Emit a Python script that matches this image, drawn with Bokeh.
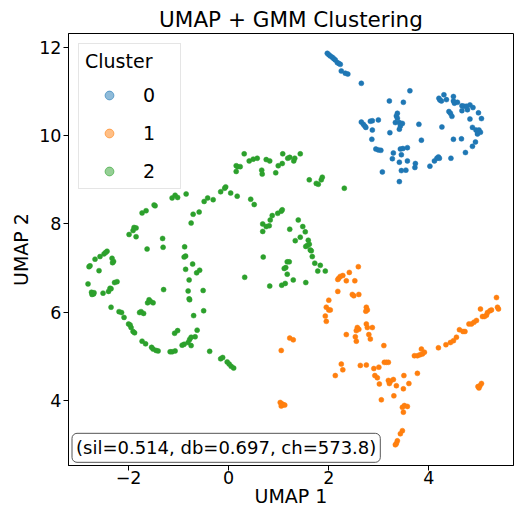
from bokeh.plotting import figure
from bokeh.models import Legend, LegendItem, Label, FixedTicker, Range1d
from bokeh.embed import file_html
from bokeh.resources import INLINE

FONT = "DejaVu Sans"

title_text = "UMAP + GMM Clustering"
x_label = "UMAP 1"
y_label = "UMAP 2"
legend_title = "Cluster"
cluster_names = ["0", "1", "2"]
cluster_colors = ["#1f77b4", "#ff7f0e", "#2ca02c"]
metrics_text = "(sil=0.514, db=0.697, ch=573.8)"
x_ticks = [-2, 0, 2, 4]
y_ticks = [4, 6, 8, 10, 12]

# Cluster 0 (blue)
x0 = [1.97, 2.00, 2.03, 2.07, 2.10, 2.13, 2.17, 2.20, 2.23, 2.25,
      2.33, 2.38, 2.65, 3.62, 3.21, 3.49, 3.37, 3.35, 3.37, 2.65,
      2.69, 2.72, 2.74, 2.83, 2.87, 2.99, 3.33, 3.41, 3.47, 3.43,
      3.41, 3.80, 2.87, 3.22, 2.86, 2.94, 2.99, 3.04, 3.29, 3.43,
      3.48, 3.57, 3.27, 3.45, 3.41, 3.57, 3.73, 3.72, 3.54, 3.45,
      3.07, 3.41, 4.02, 4.11, 4.16, 4.19, 4.21, 4.44, 4.73, 4.87,
      4.93, 4.49, 4.65, 3.85, 4.26, 4.20, 4.22, 4.25, 4.30, 4.35,
      4.49, 4.49, 4.51, 4.57, 4.66, 4.70, 4.75, 4.82, 4.88, 4.77,
      4.66, 4.82, 4.99, 5.05, 4.87, 4.94, 4.97, 5.00, 5.03, 4.97,
      4.40, 4.43, 4.46]
y0 = [11.87, 11.84, 11.81, 11.78, 11.75, 11.72, 11.66, 11.64, 11.62, 11.47,
      11.42, 11.40, 11.19, 11.02, 10.79, 10.76, 10.51, 10.45, 10.40, 10.31,
      10.26, 10.22, 10.19, 10.33, 10.34, 10.36, 10.30, 10.30, 10.28, 10.22,
      10.15, 10.26, 10.13, 10.07, 9.92, 9.70, 9.68, 9.67, 9.61, 9.70,
      9.71, 9.73, 9.48, 9.57, 9.40, 9.43, 9.37, 9.28, 9.22, 9.21,
      9.18, 8.96, 9.31, 9.43, 9.49, 9.52, 9.49, 9.49, 9.62, 9.76,
      9.86, 9.92, 9.93, 9.90, 10.20, 10.85, 10.81, 10.79, 10.93, 10.82,
      10.89, 10.79, 10.74, 10.76, 10.68, 10.67, 10.67, 10.70, 10.64, 10.59,
      10.57, 10.38, 10.52, 10.39, 10.19, 10.13, 10.10, 10.13, 10.08, 10.04,
      10.55, 10.51, 10.44]

# Cluster 1 (orange)
x1 = [2.59, 2.41, 2.28, 2.23, 2.20, 2.18, 2.35, 2.52, 2.18, 2.47,
      2.50, 2.60, 2.00, 1.95, 2.00, 2.03, 1.93, 1.95, 2.75, 2.77,
      2.74, 2.75, 2.87, 2.77, 2.57, 2.60, 2.55, 2.53, 2.35, 2.55,
      2.80, 2.83, 3.10, 1.22, 1.29, 1.05, 2.25, 2.28, 2.13, 2.63,
      2.75, 2.90, 3.00, 3.11, 3.15, 3.19, 2.92, 2.97, 3.19, 3.23,
      3.29, 3.21, 3.01, 3.35, 3.50, 3.60, 3.49, 3.30, 3.05, 3.77,
      3.51, 3.47, 3.57, 3.49, 3.47, 3.43, 3.37, 3.35, 3.33, 1.03,
      1.06, 1.09, 1.12, 1.05, 3.71, 3.77, 3.82, 3.87, 3.91, 3.85,
      4.19, 4.34, 4.43, 4.49, 4.55, 4.61, 4.68, 4.72, 4.80, 4.85,
      4.90, 4.95, 5.03, 5.07, 5.11, 5.15, 5.17, 5.22, 5.25, 5.35,
      5.37, 5.39, 4.98, 5.02, 5.05, 5.00]
y1 = [7.03, 6.90, 6.83, 6.81, 6.77, 6.74, 6.71, 6.71, 6.47, 6.40,
      6.37, 6.40, 6.27, 6.11, 6.05, 6.05, 5.91, 5.79, 6.11, 6.05,
      6.02, 5.73, 5.65, 5.65, 5.65, 5.61, 5.58, 5.44, 5.49, 5.34,
      5.49, 5.39, 5.24, 5.41, 5.37, 5.13, 4.82, 4.69, 4.56, 4.79,
      4.80, 4.72, 4.75, 4.86, 4.86, 4.86, 4.56, 4.51, 4.45, 4.43,
      4.47, 4.38, 4.37, 4.33, 4.56, 4.38, 4.26, 4.10, 4.01, 4.61,
      3.88, 3.84, 3.86, 3.73, 3.31, 3.24, 3.08, 3.02, 2.99, 3.95,
      3.92, 3.90, 3.89, 3.87, 5.01, 5.01, 5.03, 5.05, 5.09, 5.16,
      5.19, 5.26, 5.31, 5.35, 5.43, 5.60, 5.56, 5.56, 5.73, 5.73,
      5.77, 5.81, 6.07, 5.90, 5.90, 5.93, 5.99, 6.03, 6.05, 6.33,
      6.11, 6.07, 4.31, 4.33, 4.38, 4.28]

# Cluster 2 (green)
x2 = [0.31, 0.15, 0.18, 0.23, 0.15, 0.41, 0.49, 0.57, 0.75, 0.82,
      0.66, 0.67, 0.94, 0.99, 1.07, 1.08, 1.18, 1.22, 1.30, 1.32,
      1.43, 1.61, 1.75, 1.79, 1.85, 1.87, 2.31, -0.85, -0.16, -0.08,
      -0.06, 0.04, 0.17, 0.44, 0.51, -0.49, -0.42, -0.31, -0.71, -0.59,
      -0.75, 0.68, 0.75, 0.81, 0.68, 0.83, 0.87, 0.98, 1.05, 1.07,
      1.39, 1.22, 1.48, 1.53, 1.43, 1.33, 1.59, 1.61, 1.57, 1.54,
      1.63, 1.65, 1.67, 1.72, 1.83, 1.78, 1.93, 0.69, -0.88, -0.86,
      -0.89, -0.86, -0.72, -0.64, -0.58, -0.79, -0.81, -0.79, -0.51, 0.32,
      0.82, 1.17, 1.21, 1.14, 1.11, 1.17, 1.29, 1.54, 1.06, 1.13,
      -1.13, -1.07, -1.02, -1.49, -1.47, -1.73, -1.65, -1.89, -1.85, -1.91,
      -1.99, -1.85, -1.32, -1.31, -1.63, -2.43, -2.49, -2.46, -2.57, -2.67,
      -2.77, -2.79, -2.59, -2.33, -2.30, -2.32, -2.81, -2.37, -2.28, -2.23,
      -1.30, -2.74, -2.72, -2.70, -2.73, -2.69, -2.51, -2.40, -2.35, -0.78,
      -2.35, -2.19, -2.14, -2.09, -2.00, -1.97, -1.95, -1.91, -1.88, -1.73,
      -1.66, -1.54, -1.51, -1.45, -1.41, -1.17, -1.13, -1.07, -0.93, -0.89,
      -0.81, -0.78, -0.75, -0.75, -0.67, -0.63, -1.08, -1.02, -1.78, -1.75,
      -1.70, -1.62, -1.59, -1.51, -1.56, -0.70, -0.50, -0.38, -0.16, -0.12,
      -0.03, 0.01, 0.05, 0.10]
y2 = [9.59, 9.32, 9.30, 9.30, 9.19, 9.43, 9.47, 9.49, 9.46, 9.43,
      9.22, 9.13, 9.16, 9.32, 9.37, 9.59, 9.49, 9.51, 9.43, 9.49,
      9.59, 9.00, 8.92, 8.90, 9.00, 9.06, 8.81, 8.68, 8.73, 8.81,
      8.84, 8.70, 8.63, 8.56, 8.44, 8.51, 8.59, 8.55, 8.22, 8.27,
      8.02, 8.00, 7.94, 7.96, 7.83, 8.09, 8.19, 8.24, 8.29, 8.32,
      8.09, 7.88, 7.94, 7.82, 7.70, 7.62, 7.63, 7.54, 7.51, 7.49,
      7.41, 7.39, 7.26, 7.11, 7.06, 6.93, 6.93, 7.25, 7.48, 7.27,
      7.25, 6.97, 7.09, 6.89, 6.95, 6.73, 6.48, 6.30, 6.49, 6.79,
      6.59, 7.14, 7.14, 7.01, 6.99, 6.86, 6.73, 6.67, 6.61, 6.65,
      8.59, 8.65, 8.60, 8.43, 8.41, 8.25, 8.30, 7.92, 7.91, 7.85,
      7.76, 7.71, 7.67, 7.47, 7.43, 7.38, 7.32, 7.35, 7.26, 7.20,
      7.05, 7.03, 6.94, 7.22, 7.15, 7.12, 6.64, 6.54, 6.67, 6.69,
      6.51, 6.45, 6.43, 6.41, 6.40, 6.44, 6.43, 6.47, 6.53, 6.28,
      6.11, 6.01, 5.99, 5.88, 5.73, 5.71, 5.65, 5.56, 5.53, 5.34,
      5.28, 5.20, 5.16, 5.13, 5.12, 5.10, 5.10, 5.12, 5.25, 5.27,
      5.31, 5.38, 5.43, 5.24, 5.44, 5.59, 5.52, 5.58, 5.99, 6.01,
      5.97, 6.21, 6.28, 6.21, 6.24, 5.92, 6.03, 5.11, 4.94, 4.97,
      4.87, 4.82, 4.77, 4.73]

xs = [x0, x1, x2]
ys = [y0, y1, y2]

p = figure(width=516, height=509, output_backend="svg", toolbar_location=None,
           x_range=Range1d(-3.2, 5.69), y_range=Range1d(2.52, 12.32),
           min_border_left=68, min_border_right=3, min_border_top=33,
           min_border_bottom=44, background_fill_color="white",
           border_fill_color="white")

p.title.text = title_text
p.title.align = "center"
p.title.text_font = FONT
p.title.text_font_size = "21.5px"
p.title.text_font_style = "normal"
p.title.text_color = "black"
p.title.standoff = 4

p.xgrid.visible = False
p.ygrid.visible = False
p.outline_line_color = "black"
p.outline_line_width = 1

p.xaxis.ticker = FixedTicker(ticks=x_ticks)
p.yaxis.ticker = FixedTicker(ticks=y_ticks)
p.xaxis.axis_label = x_label
p.yaxis.axis_label = y_label
for ax in (p.xaxis, p.yaxis):
    ax.axis_label_text_font = FONT
    ax.axis_label_text_font_size = "19px"
    ax.axis_label_text_font_style = "normal"
    ax.axis_label_text_color = "black"
    ax.major_label_text_font = FONT
    ax.major_label_text_font_size = "17.5px"
    ax.major_label_text_color = "black"
    ax.minor_tick_line_color = None
    ax.major_tick_in = 0
    ax.major_tick_out = 5
    ax.major_tick_line_color = "black"
    ax.axis_line_color = "black"
p.xaxis.major_label_standoff = 0
p.xaxis.axis_label_standoff = -2
p.yaxis.major_label_standoff = 2
p.yaxis.axis_label_standoff = 4

for xv, yv, c in zip(xs, ys, cluster_colors):
    p.scatter(xv, yv, size=5, fill_color=c, line_color=c, line_width=0.5)

items = []
for name, c in zip(cluster_names, cluster_colors):
    r = p.scatter(x=[float("nan")], y=[float("nan")], size=14, fill_color=c,
                  fill_alpha=0.5, line_color=c, line_alpha=0.6)
    items.append(LegendItem(label=name, renderers=[r]))

legend = Legend(items=items, title=legend_title, location="top_left",
                margin=10, padding=6, spacing=16,
                glyph_height=22, glyph_width=48, label_height=22,
                label_width=31, label_standoff=10, title_standoff=12,
                label_text_font=FONT, label_text_font_size="19px",
                label_text_color="black",
                title_text_font=FONT, title_text_font_size="19px",
                title_text_font_style="normal", title_text_color="black",
                border_line_color="#cccccc", border_line_width=1,
                background_fill_color="white", background_fill_alpha=0.8)
p.add_layout(legend)

lab = Label(x=-3.13, y=2.592, text=metrics_text, text_font=FONT,
            text_font_size="18px", text_color="black",
            text_align="left", text_baseline="bottom",
            padding=4, border_line_color="#555555", border_line_width=1,
            background_fill_color="white", background_fill_alpha=0.8,
            border_radius=5)
p.add_layout(lab)

open("out.html", "w").write(file_html(p, INLINE))
